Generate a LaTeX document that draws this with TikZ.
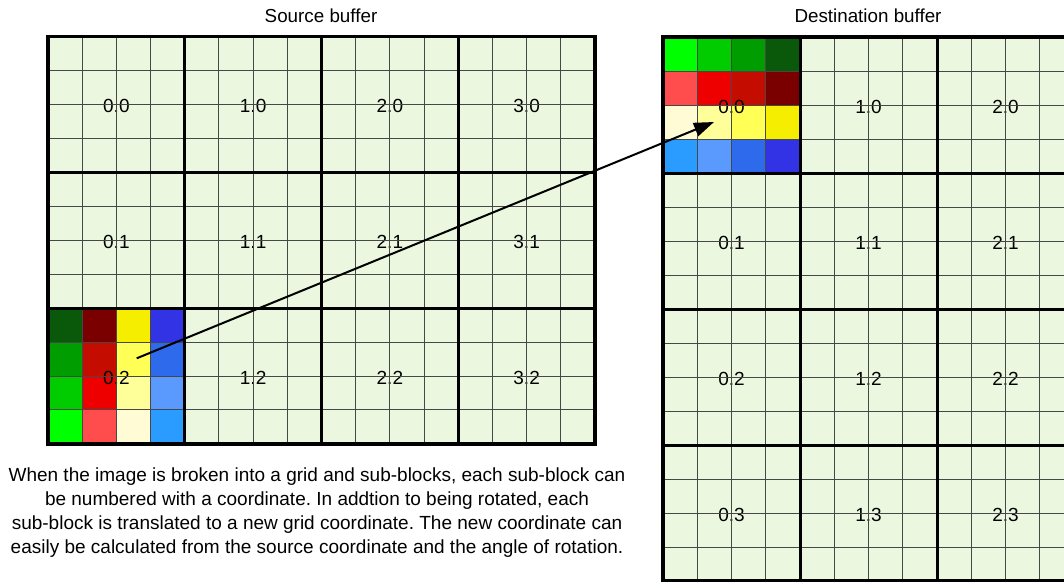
\documentclass[tikz,border=0pt]{standalone}
\usepackage{fontspec}
\setmainfont{Liberation Sans}
\usetikzlibrary{arrows.meta}
\definecolor{cellfill}{RGB}{235,247,223}
\definecolor{gA}{HTML}{00FF00}
\definecolor{gB}{HTML}{00CC00}
\definecolor{gC}{HTML}{009D00}
\definecolor{gD}{HTML}{0A580A}
\definecolor{rA}{HTML}{FF4C4C}
\definecolor{rB}{HTML}{EE0000}
\definecolor{rC}{HTML}{C40C00}
\definecolor{rD}{HTML}{7A0000}
\definecolor{yA}{HTML}{FFFCD5}
\definecolor{yB}{HTML}{FFFF99}
\definecolor{yC}{HTML}{FFFF55}
\definecolor{yD}{HTML}{F5EE00}
\definecolor{bA}{HTML}{2A9BFF}
\definecolor{bB}{HTML}{5A9AFF}
\definecolor{bC}{HTML}{2D6AEC}
\definecolor{bD}{HTML}{3333E6}
\tikzset{
  thinline/.style={line width=1pt, draw=black!72},
  thickline/.style={line width=3pt, draw=black},
  borderline/.style={line width=3.5pt, draw=black},
  blocklabel/.style={font=\fontsize{19}{21}\selectfont, inner sep=0pt, anchor=center},
  titlelabel/.style={font=\fontsize{18.8}{21}\selectfont, inner sep=0pt, anchor=base},
  captionstyle/.style={font=\fontsize{19}{23.7}\selectfont, inner sep=0pt, align=center, anchor=north},
  movearrow/.style={line width=2pt, -{Triangle[length=20pt,width=14pt]}},
}
\frenchspacing
\begin{document}
\begin{tikzpicture}[x=1pt,y=-1pt]
\useasboundingbox (0,0) rectangle (1064,581);
\clip (0,0) rectangle (1064,581);
% ---------------- Source buffer ----------------
\def\sx{48}\def\sy{36.5}\def\sw{136.75}\def\sh{135.8}
\fill[cellfill] (\sx,\sy) rectangle (\sx+4*\sw,\sy+3*\sh);
% coloured sub-block (block 0.2)
\foreach \c/\r/\col in {0/8/gD,1/8/rD,2/8/yD,3/8/bD,
                        0/9/gC,1/9/rC,2/9/yC,3/9/bC,
                        0/10/gB,1/10/rB,2/10/yB,3/10/bB,
                        0/11/gA,1/11/rA,2/11/yA,3/11/bA}
  \fill[\col] (\sx+\c*\sw/4,\sy+\r*\sh/4) rectangle ++(\sw/4,\sh/4);
% labels
\foreach \c in {0,...,3}
  \foreach \r in {0,...,2}
    \node[blocklabel] (s\c\r) at (\sx+\c*\sw+0.5*\sw,\sy+\r*\sh+0.5*\sh+2) {\c.\r};
% thin lines
\foreach \i in {1,...,15}
  \draw[thinline] (\sx+\i*\sw/4,\sy) -- ++(0,3*\sh);
\foreach \j in {1,...,11}
  \draw[thinline] (\sx,\sy+\j*\sh/4) -- ++(4*\sw,0);
% thick block lines
\foreach \i in {1,...,3}
  \draw[thickline] (\sx+\i*\sw,\sy) -- ++(0,3*\sh);
\foreach \j in {1,2}
  \draw[thickline] (\sx,\sy+\j*\sh) -- ++(4*\sw,0);
\draw[borderline] (\sx,\sy) rectangle (\sx+4*\sw,\sy+3*\sh);
% ---------------- Destination buffer ----------------
\def\dx{663}\def\dy{37}\def\dw{137}\def\dh{136}
\fill[cellfill] (\dx,\dy) rectangle (\dx+3*\dw,\dy+4*\dh);
\foreach \c/\r/\col in {0/0/gA,1/0/gB,2/0/gC,3/0/gD,
                        0/1/rA,1/1/rB,2/1/rC,3/1/rD,
                        0/2/yA,1/2/yB,2/2/yC,3/2/yD,
                        0/3/bA,1/3/bB,2/3/bC,3/3/bD}
  \fill[\col] (\dx+\c*\dw/4,\dy+\r*\dh/4) rectangle ++(\dw/4,\dh/4);
\foreach \c in {0,...,2}
  \foreach \r in {0,...,3}
    \node[blocklabel] (d\c\r) at (\dx+\c*\dw+0.5*\dw,\dy+\r*\dh+0.5*\dh+2) {\c.\r};
\foreach \i in {1,...,11}
  \draw[thinline] (\dx+\i*\dw/4,\dy) -- ++(0,4*\dh);
\foreach \j in {1,...,15}
  \draw[thinline] (\dx,\dy+\j*\dh/4) -- ++(3*\dw,0);
\foreach \i in {1,2}
  \draw[thickline] (\dx+\i*\dw,\dy) -- ++(0,4*\dh);
\foreach \j in {1,2,3}
  \draw[thickline] (\dx,\dy+\j*\dh) -- ++(3*\dw,0);
\draw[borderline] (\dx,\dy) rectangle (\dx+3*\dw,\dy+4*\dh);
% ---------------- Titles and caption ----------------
\node[titlelabel] (srctitle) at (321,22.7) {Source buffer};
\node[titlelabel] (dsttitle) at (868,22.7) {Destination buffer};
\node[captionstyle] (caption) at (317,468) {When the image is broken into a grid and sub-blocks, each sub-block can\\
be numbered with a coordinate. In addtion to being rotated, each\\
sub-block is translated to a new grid coordinate. The new coordinate can\\
easily be calculated from the source coordinate and the angle of rotation.};
% ---------------- Arrow ----------------
\coordinate (srcpt) at (136.7,358.3);
\coordinate (dstpt) at (714,122);
\draw[movearrow] (srcpt) -- (dstpt);
\end{tikzpicture}
\end{document}
